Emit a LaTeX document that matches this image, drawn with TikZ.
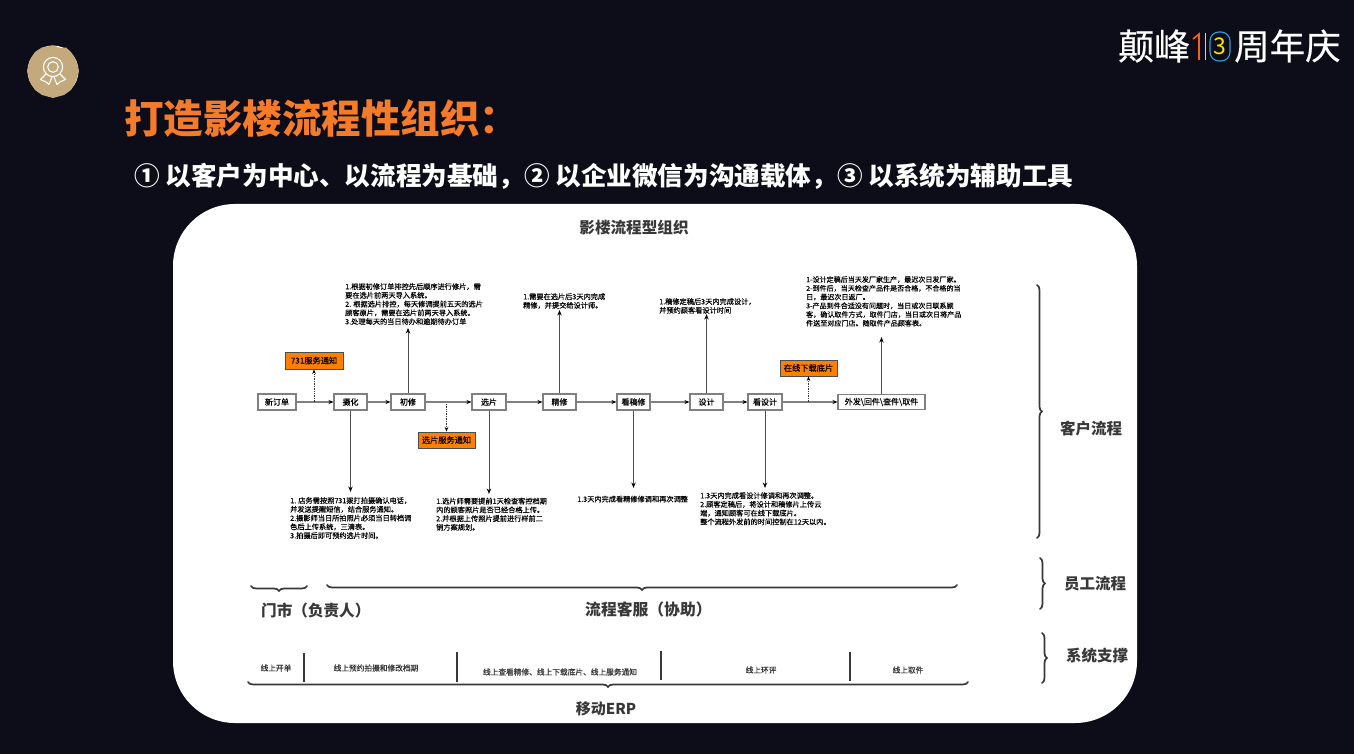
\documentclass[tikz,border=0pt]{standalone}
\usepackage{fontspec}
\setmainfont{Noto Sans CJK SC}
\newfontfamily\midf[FakeBold=0.35]{Noto Sans CJK SC}
\usetikzlibrary{arrows.meta,decorations.pathreplacing}
\definecolor{bgc}{HTML}{0D0D1A}
\definecolor{titleor}{HTML}{F47B2A}
\definecolor{tan}{HTML}{C4A97D}
\definecolor{ora}{HTML}{FF8000}
\definecolor{dk}{HTML}{383838}
\definecolor{ring}{HTML}{2E9FD6}
\tikzset{
  boxn/.style={draw=black!50,line width=1.1pt,fill=white,inner sep=0pt,text=black,font=\midf\fontsize{8}{9}\selectfont},
  orn/.style={draw=black!70,line width=.9pt,fill=ora,inner sep=0pt,text=black,font=\midf\fontsize{8.2}{9}\selectfont},
  note/.style={anchor=north west,inner sep=0pt,align=left,text=black,font=\midf\fontsize{7.2}{8.75}\selectfont},
  note small/.style={note,font=\midf\fontsize{7.05}{8.75}\selectfont},
  flow/.style={draw=black!50,line width=1.2pt,-{Stealth[length=5pt,width=4pt,black]}},
  updown/.style={draw=black!70,line width=1pt,-{Stealth[length=5.5pt,width=4.4pt,black]}},
  dots/.style={draw=black!80,line width=.7pt,densely dotted,-{Stealth[length=4.5pt,width=3.6pt,black]}},
  hd/.style={text=dk,font=\fontsize{#1}{#1}\selectfont\bfseries,inner sep=0pt},
  brc/.style={draw=dk,line width=1.7pt,line cap=round,decorate,decoration={brace,amplitude=#1}},
  divd/.style={draw=dk,line width=1.2pt},
  sys/.style={text=dk,inner sep=0pt,font=\midf\fontsize{7.7}{9}\selectfont},
}
\begin{document}
\begin{tikzpicture}[x=1pt,y=-1pt]
\fill[bgc] (0,0) rectangle (1354,754);
\path[use as bounding box] (0,0) rectangle (1354,754);
% white panel
\fill[white,rounded corners=62pt] (173,204) rectangle (1137,723);
% medal
\fill[white!85!tan] (53,71) circle (25.5);
\fill[tan] (53,45.5) -- (60,48) -- (66,47.5) -- (71,52) -- (76,60) -- (79,71) -- (76,81) -- (71,90) -- (64,95) -- (53,98) -- (42,95) -- (35,90) -- (30,82) -- (27,71) -- (30,60) -- (35,52) -- (42,47.5) -- cycle;
\draw[white,line width=1.1pt] (53,67) circle (9.6) (53,67) circle (5.3);
\draw[white,line width=1.1pt,line join=round] (46,74) -- (40.5,79.5) -- (46,82) -- (49,84.5) -- (52,77);
\draw[white,line width=1.1pt,line join=round] (60,74) -- (65.5,79.5) -- (60,82) -- (57,84.5) -- (54,77);
% logo
\node[anchor=west,inner sep=0pt,text=white,font=\midf\fontsize{36}{36}\selectfont] (lg1) at (1118,46) {颠峰};
\node[anchor=west,inner sep=0pt,text=white,font=\midf\fontsize{35.5}{36}\selectfont] (lg2) at (1234,46) {周年庆};
\draw[ring,line width=1.1pt,rounded corners=9pt] (1210,32) rectangle (1230,61);
\node[inner sep=0pt,text=yellow!85!orange,font=\fontsize{23}{23}\selectfont] (lg3) at (1220,46) {3};
\draw[orange!75!red,line width=1.6pt] (1193,39) -- (1199,34) -- (1199,60);
\draw[yellow!80!orange,line width=.8pt] (1205,33) -- (1205,60);
% headings
\node[anchor=west,inner sep=0pt,text=titleor,font=\fontsize{39.5}{40}\selectfont\bfseries] (ttl) at (124,118) {打造影楼流程性组织：};
\node[anchor=west,inner sep=0pt,text=white,font=\fontsize{25.6}{26}\selectfont\bfseries] (sub) at (134,176) {① 以客户为中心、以流程为基础，② 以企业微信为沟通载体，③ 以系统为辅助工具};
\node[hd=15.6] (pt) at (634,228) {影楼流程型组织};
% flow boxes
\node[boxn,minimum width=38pt,minimum height=16pt] (b1) at (277,402) {新订单};
\node[boxn,minimum width=33pt,minimum height=16pt] (b2) at (350.5,402) {摄化};
\node[boxn,minimum width=34pt,minimum height=16pt] (b3) at (408,402) {初修};
\node[boxn,minimum width=34pt,minimum height=16pt] (b4) at (489,402) {选片};
\node[boxn,minimum width=33pt,minimum height=16pt] (b5) at (559.5,402) {精修};
\node[boxn,minimum width=33pt,minimum height=16pt] (b6) at (633.5,402) {看稿修};
\node[boxn,minimum width=33pt,minimum height=16pt] (b7) at (706.5,402) {设计};
\node[boxn,minimum width=34pt,minimum height=16pt] (b8) at (765,402) {看设计};
\node[boxn,minimum width=87pt,minimum height=15pt] (b9) at (881.5,402) {外发\textbackslash 回件\textbackslash 查件\textbackslash 取件};
\foreach \a/\b in {b1/b2,b2/b3,b3/b4,b4/b5,b5/b6,b6/b7,b7/b8,b8/b9}
  \draw[flow] (\a) -- (\b);
% orange
\node[orn,minimum width=58pt,minimum height=17pt] (o1) at (314,360.5) {731服务通知};
\node[orn,minimum width=57pt,minimum height=16pt] (o2) at (446.5,440) {选片服务通知};
\node[orn,minimum width=57pt,minimum height=16pt] (o3) at (808.5,368) {在线下载底片};
\coordinate (j1) at (314,402);
\coordinate (j2) at (446.5,404);
\coordinate (j3) at (808.5,402);
\draw[dots] (j1) -- (o1);
\draw[dots] (j2) -- (o2);
\draw[dots] (j3) -- (o3);
% notes
\node[note] (n3) at (345,283) {1.根据初修订单排控先后顺序进行修片，需\\要在选片前两天导入系统。\\2. 根据选片排控，每天修调提前五天的选片\\顾客原片，需要在选片前两天导入系统。\\3.处理每天的当日待办和逾期待办订单};
\node[note] (n5) at (523,293) {1.需要在选片后3天内完成\\精修，并提交给设计师。};
\node[note] (n7) at (659,298) {1.稿修定稿后3天内完成设计，\\并预约顾客看设计时间};
\node[note small] (n9) at (806,276) {1-设计定稿后当天发厂家生产，最迟次日发厂家。\\2-到件后，当天检查产品件是否合格，不合格的当\\日，最迟次日返厂。\\3-产品到件合适没有问题时，当日或次日联系顾\\客，确认取件方式，取件门店，当日或次日将产品\\件送至对应门店。随取件产品顾客表。};
\node[note] (n2) at (290,497) {1. 店务需按照731拨打拍摄确认电话，\\并发送提醒短信，结合服务通知。\\2.摄影师当日所拍照片必须当日转档调\\色后上传系统，三清表。\\3.拍摄后即可预约选片时间。};
\node[note] (n4) at (436,497.5) {1.选片师需要提前1天检查客控档期\\内的顾客照片是否已经合格上传。\\2.并根据上传照片提前进行样前二\\销方案规划。};
\node[note] (n6) at (577,495.5) {1.3天内完成看精修修调和再次调整};
\node[note] (n8) at (700,492) {1.3天内完成看设计修调和再次调整。\\2.顾客定稿后，将设计和稿修片上传云\\端，通知顾客可在线下载底片。\\整个流程外发前的时间控制在12天以内。};
\coordinate (a3) at (408,328);
\coordinate (a5) at (559.5,310);
\coordinate (a7) at (706.5,314);
\coordinate (a9) at (881.5,337);
\coordinate (a2) at (350.5,492);
\coordinate (a4) at (489,494);
\coordinate (a6) at (633.5,488);
\coordinate (a8) at (765,488);
\foreach \a/\b in {b3/a3,b5/a5,b7/a7,b9/a9} \draw[updown] (\a.north) -- (\b);
\foreach \a/\b in {b2/a2,b4/a4,b6/a6,b8/a8} \draw[updown] (\a.south) -- (\b);
% staff braces
\coordinate (s1a) at (251,586); \coordinate (s1b) at (307,586);
\coordinate (s2a) at (327,585); \coordinate (s2b) at (957,585);
\coordinate (s3a) at (248,682); \coordinate (s3b) at (968,682);
\draw[brc=5pt] (s1b) -- (s1a);
\draw[brc=5pt] (s2b) -- (s2a);
\draw[brc=5pt] (s3b) -- (s3a);
\node[hd=15.6,anchor=west] (l1) at (261,611) {门市（负责人）};
\node[hd=15.8,anchor=west] (l2) at (585,609) {流程客服（协助）};
\node[hd=15] (l3) at (606,709) {移动ERP};
% system
\coordinate (d1a) at (304,653); \coordinate (d1b) at (304,682);
\coordinate (d2a) at (457,652); \coordinate (d2b) at (457,682);
\coordinate (d3a) at (661,651); \coordinate (d3b) at (661,680);
\coordinate (d4a) at (850,652); \coordinate (d4b) at (850,681);
\draw[divd] (d1a) -- (d1b);
\draw[divd] (d2a) -- (d2b);
\draw[divd] (d3a) -- (d3b);
\draw[divd] (d4a) -- (d4b);
\node[sys] (y1) at (276,668) {线上开单};
\node[sys] (y2) at (376,668) {线上预约拍摄和修改档期};
\node[sys] (y3) at (560,672) {线上查看精修、线上下载底片、线上服务通知};
\node[sys] (y4) at (761,670) {线上环评};
\node[sys] (y5) at (908,670) {线上取件};
% side braces
\coordinate (r1a) at (1037,285); \coordinate (r1b) at (1037,538);
\coordinate (r2a) at (1040,558); \coordinate (r2b) at (1040,609);
\coordinate (r3a) at (1042,633); \coordinate (r3b) at (1042,683);
\draw[brc=5pt] (r1a) -- (r1b);
\draw[brc=5pt] (r2a) -- (r2b);
\draw[brc=5pt] (r3a) -- (r3b);
\node[hd=15.5] (r1) at (1091,429) {客户流程};
\node[hd=15.5] (r2) at (1095,584) {员工流程};
\node[hd=15.5] (r3) at (1097,656) {系统支撑};
\end{tikzpicture}
\end{document}
